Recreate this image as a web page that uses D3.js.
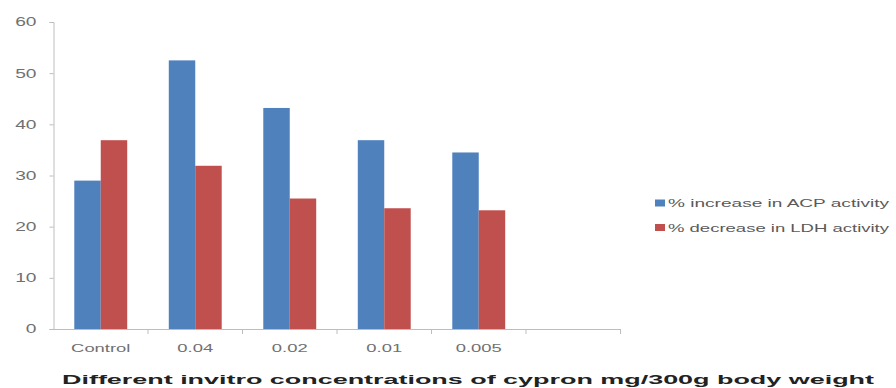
<!DOCTYPE html>
<html>
<head>
<meta charset="utf-8">
<script src="https://cdn.jsdelivr.net/npm/d3@7"></script>
<style>
  html, body { margin: 0; padding: 0; background: #fff; }
  svg { display: block; }
  text { font-family: "Liberation Sans", Arial, sans-serif; }
</style>
</head>
<body>
<svg id="chart" width="896" height="388"></svg>
<script>
// Concentration groups and the two measured responses (%)
const categories = ["Control", "0.04", "0.02", "0.01", "0.005"];
const acpIncrease = [29, 52.5, 43.2, 36.9, 34.5];
const ldhDecrease = [36.9, 31.9, 25.5, 23.6, 23.2];
const seriesNames = ["% increase in ACP activity", "% decrease in LDH activity"];
const yTicks = [0, 10, 20, 30, 40, 50, 60];
const xTitle = "Different invitro concentrations of cypron mg/300g body weight";

const colors = ["#4F81BD", "#C0504D"];
const series = [acpIncrease, ldhDecrease];

const svg = d3.select("#chart");
const plot = { left: 53.5, right: 620.5, top: 22, bottom: 329 };

// One empty slot after the last group, as on the category axis
const slots = categories.concat([" "]);
const x = d3.scaleBand().domain(slots)
  .range([plot.left, plot.right])
  .paddingInner(0.44).paddingOuter(0.22);
const xInner = d3.scaleBand().domain(d3.range(series.length))
  .range([0, x.bandwidth()]);
const y = d3.scaleLinear().domain([0, 60]).range([plot.bottom, plot.top]);

// Bars
series.forEach((vals, si) => {
  svg.append("g").selectAll("rect")
    .data(vals.map((v, i) => ({ cat: categories[i], v })))
    .join("rect")
    .attr("x", d => x(d.cat) + xInner(si))
    .attr("y", d => y(d.v))
    .attr("width", xInner.bandwidth())
    .attr("height", d => y(0) - y(d.v))
    .attr("fill", colors[si]);
});

const axisGrey = "#BDBDBD";
const labelGrey = "#707070";

// Y axis
const yAxis = svg.append("g")
  .attr("transform", `translate(${plot.left},0)`)
  .call(d3.axisLeft(y).tickValues(yTicks).tickSize(4).tickPadding(10));
yAxis.select(".domain").attr("stroke", axisGrey);
yAxis.selectAll(".tick line").attr("stroke", axisGrey);
yAxis.selectAll(".tick text")
  .attr("fill", labelGrey)
  .attr("font-size", 12)
  .attr("text-anchor", "end")
  .attr("transform", "translate(-17,0) scale(1.6,1)")
  .attr("x", 0);

// X axis: labels centred on groups, tick marks on slot boundaries
const xAxis = svg.append("g")
  .attr("transform", `translate(0,${plot.bottom})`)
  .call(d3.axisBottom(x).tickSize(0).tickPadding(15)
    .tickFormat(d => d.trim()));
xAxis.select(".domain").attr("stroke", axisGrey);
xAxis.selectAll(".tick text")
  .attr("fill", labelGrey)
  .attr("font-size", 11.5)
  .attr("transform", "scale(1.6,1)");

const boundaries = slots.map(s => x(s) - x.step() * x.paddingInner() / 2)
  .concat([plot.right]);
xAxis.selectAll("line.bound")
  .data(boundaries.slice(1))
  .join("line")
  .attr("class", "bound")
  .attr("x1", d => d).attr("x2", d => d)
  .attr("y1", 0).attr("y2", 5)
  .attr("stroke", axisGrey);

// Axis title
svg.append("text")
  .attr("x", 62)
  .attr("y", 384)
  .attr("font-size", 13)
  .attr("font-weight", "bold")
  .attr("fill", "#222")
  .attr("textLength", 812)
  .attr("lengthAdjust", "spacingAndGlyphs")
  .text(xTitle);

// Legend
const legend = svg.append("g").attr("transform", "translate(655,203)");
seriesNames.forEach((name, i) => {
  const g = legend.append("g").attr("transform", `translate(0,${i * 24.5})`);
  g.append("rect").attr("x", 0).attr("y", -3.5).attr("width", 10).attr("height", 7)
    .attr("fill", colors[i]);
  g.append("text")
    .attr("x", 13).attr("y", 0).attr("dy", "0.35em")
    .attr("font-size", 11.5)
    .attr("fill", "#5a5a5a")
    .attr("textLength", 221)
    .attr("lengthAdjust", "spacingAndGlyphs")
    .text(name);
});
</script>
</body>
</html>
